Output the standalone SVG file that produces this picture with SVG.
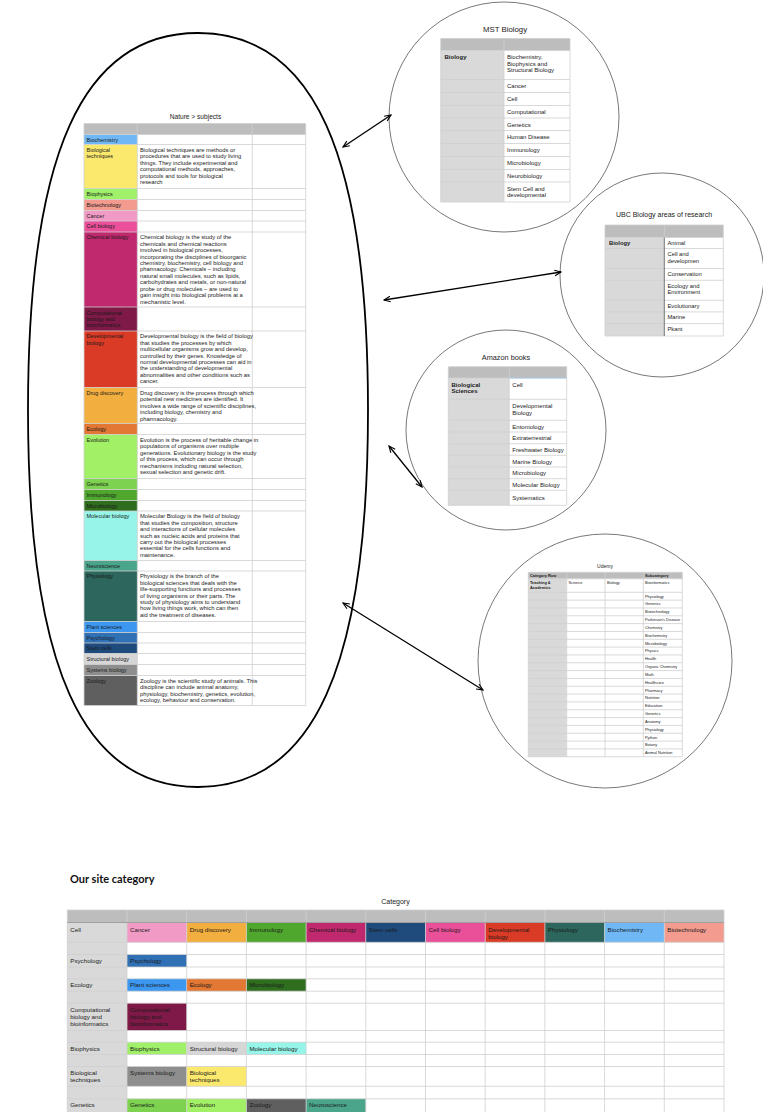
<svg xmlns="http://www.w3.org/2000/svg" width="763" height="1112" viewBox="0 0 763 1112">
<defs>
<style>
text{font-family:"Liberation Sans",Arial,Helvetica,sans-serif;fill:#1a1a1a}
.nl{font-size:5.5px}
.nd{font-size:5.8px}
.ti{font-size:7.5px;fill:#222}
.c6{font-size:6px}
.bt{font-size:6.2px}
.u{font-size:3.9px}
.b{font-weight:bold}
.grid{fill:none;stroke:#cfcfcf;stroke-width:0.8}
.hd{fill:#bdbdbd}
.gc{fill:#d9d9d9}
.wc{fill:#ffffff}
.circ{fill:none;stroke:#555;stroke-width:0.8}
.ell{fill:none;stroke:#000;stroke-width:1.8}
.arr{fill:none;stroke:#000;stroke-width:1.3;marker-start:url(#ah);marker-end:url(#ah)}
</style>
<marker id="ah" viewBox="0 0 10 10" refX="9" refY="5" markerWidth="8" markerHeight="8" markerUnits="userSpaceOnUse" orient="auto-start-reverse"><path d="M1,1.5 L9,5 L1,8.5" fill="none" stroke="#000" stroke-width="1.4"/></marker>
</defs>
<rect width="763" height="1112" fill="#fff"/>

<g id="nature">
<path class="ell" d="M368,410 C368,666.4 313.6,787 198,787 C82.4,787 28,666.4 28,410 C28,153.6 82.4,33 198,33 C313.6,33 368,153.6 368,410 Z"/>
<text class="ti" x="195.5" y="118.5" text-anchor="middle" style="font-size:6.6px">Nature &gt; subjects</text>
<rect class="wc" x="84" y="123.5" width="221.7" height="582"/>
<rect class="hd" x="84" y="123.5" width="221.7" height="11"/>
<rect x="84" y="134.5" width="53.3" height="10" fill="#6fb8f5"/>
<rect x="84" y="144.5" width="53.3" height="44" fill="#fbe96e"/>
<rect x="84" y="188.5" width="53.3" height="11" fill="#a1f06a"/>
<rect x="84" y="199.5" width="53.3" height="11" fill="#f29b8e"/>
<rect x="84" y="210.5" width="53.3" height="10.5" fill="#f19ac6"/>
<rect x="84" y="221" width="53.3" height="11" fill="#ea4f9a"/>
<rect x="84" y="232" width="53.3" height="75" fill="#c0296e"/>
<rect x="84" y="307" width="53.3" height="24" fill="#7f1947"/>
<rect x="84" y="331" width="53.3" height="56.5" fill="#da3b26"/>
<rect x="84" y="387.5" width="53.3" height="36" fill="#f2ae3f"/>
<rect x="84" y="423.5" width="53.3" height="11" fill="#e27833"/>
<rect x="84" y="434.5" width="53.3" height="44" fill="#a2f065"/>
<rect x="84" y="478.5" width="53.3" height="11" fill="#7dd24f"/>
<rect x="84" y="489.5" width="53.3" height="11" fill="#4fa72e"/>
<rect x="84" y="500.5" width="53.3" height="10.5" fill="#2e6e1e"/>
<rect x="84" y="511" width="53.3" height="49.5" fill="#96f5e8"/>
<rect x="84" y="560.5" width="53.3" height="10.5" fill="#4aa58b"/>
<rect x="84" y="571" width="53.3" height="50.5" fill="#2c665c"/>
<rect x="84" y="621.5" width="53.3" height="11" fill="#3c97f1"/>
<rect x="84" y="632.5" width="53.3" height="10.5" fill="#3070b5"/>
<rect x="84" y="643" width="53.3" height="10.5" fill="#1e4a7c"/>
<rect x="84" y="653.5" width="53.3" height="11" fill="#d6d6d6"/>
<rect x="84" y="664.5" width="53.3" height="11" fill="#8e8e8e"/>
<rect x="84" y="675.5" width="53.3" height="30" fill="#5f5f5f"/>
<path class="grid" d="M84 123.5H305.7M84 134.5H305.7M84 144.5H305.7M84 188.5H305.7M84 199.5H305.7M84 210.5H305.7M84 221H305.7M84 232H305.7M84 307H305.7M84 331H305.7M84 387.5H305.7M84 423.5H305.7M84 434.5H305.7M84 478.5H305.7M84 489.5H305.7M84 500.5H305.7M84 511H305.7M84 560.5H305.7M84 571H305.7M84 621.5H305.7M84 632.5H305.7M84 643H305.7M84 653.5H305.7M84 664.5H305.7M84 675.5H305.7M84 705.5H305.7M84 123.5V705.5M137.3 123.5V705.5M252.3 123.5V705.5M305.7 123.5V705.5"/>
<g class="nl">
<text x="86.5" y="141.7">Biochemistry</text>
<text x="86.5" y="151.5">Biological<tspan x="86.5" dy="6.5">techniques</tspan></text>
<text x="86.5" y="195.7">Biophysics</text>
<text x="86.5" y="206.7">Biotechnology</text>
<text x="86.5" y="217.7">Cancer</text>
<text x="86.5" y="228.2">Cell biology</text>
<text x="86.5" y="239.2">Chemical biology</text>
<text x="86.5" y="314.5">Computational<tspan x="86.5" dy="6.3">biology and</tspan><tspan x="86.5" dy="6.3">bioinformatics</tspan></text>
<text x="86.5" y="338.2">Developmental<tspan x="86.5" dy="6.5">biology</tspan></text>
<text x="86.5" y="394.7">Drug discovery</text>
<text x="86.5" y="430.7">Ecology</text>
<text x="86.5" y="441.7">Evolution</text>
<text x="86.5" y="485.7">Genetics</text>
<text x="86.5" y="496.7">Immunology</text>
<text x="86.5" y="507.7">Microbiology</text>
<text x="86.5" y="518.2">Molecular biology</text>
<text x="86.5" y="567.7">Neuroscience</text>
<text x="86.5" y="578.2">Physiology</text>
<text x="86.5" y="628.7">Plant sciences</text>
<text x="86.5" y="639.7">Psychology</text>
<text x="86.5" y="650.2">Stem cells</text>
<text x="86.5" y="660.7">Structural biology</text>
<text x="86.5" y="671.7">Systems biology</text>
<text x="86.5" y="682.7">Zoology</text>
</g>
<g class="nd">
<text x="140" y="151.7">Biological techniques are methods or<tspan x="140" dy="6.45">procedures that are used to study living</tspan><tspan x="140" dy="6.45">things. They include experimental and</tspan><tspan x="140" dy="6.45">computational methods, approaches,</tspan><tspan x="140" dy="6.45">protocols and tools for biological</tspan><tspan x="140" dy="6.45">research</tspan></text>
<text x="140" y="239.2">Chemical biology is the study of the<tspan x="140" dy="6.45">chemicals and chemical reactions</tspan><tspan x="140" dy="6.45">involved in biological processes,</tspan><tspan x="140" dy="6.45">incorporating the disciplines of bioorganic</tspan><tspan x="140" dy="6.45">chemistry, biochemistry, cell biology and</tspan><tspan x="140" dy="6.45">pharmacology. Chemicals – including</tspan><tspan x="140" dy="6.45">natural small molecules, such as lipids,</tspan><tspan x="140" dy="6.45">carbohydrates and metals, or non-natural</tspan><tspan x="140" dy="6.45">probe or drug molecules – are used to</tspan><tspan x="140" dy="6.45">gain insight into biological problems at a</tspan><tspan x="140" dy="6.45">mechanistic level.</tspan></text>
<text x="140" y="338.2">Developmental biology is the field of biology<tspan x="140" dy="6.45">that studies the processes by which</tspan><tspan x="140" dy="6.45">multicellular organisms grow and develop,</tspan><tspan x="140" dy="6.45">controlled by their genes. Knowledge of</tspan><tspan x="140" dy="6.45">normal developmental processes can aid in</tspan><tspan x="140" dy="6.45">the understanding of developmental</tspan><tspan x="140" dy="6.45">abnormalities and other conditions such as</tspan><tspan x="140" dy="6.45">cancer.</tspan></text>
<text x="140" y="394.7">Drug discovery is the process through which<tspan x="140" dy="6.45">potential new medicines are identified. It</tspan><tspan x="140" dy="6.45">involves a wide range of scientific disciplines,</tspan><tspan x="140" dy="6.45">including biology, chemistry and</tspan><tspan x="140" dy="6.45">pharmacology.</tspan></text>
<text x="140" y="441.7">Evolution is the process of heritable change in<tspan x="140" dy="6.45">populations of organisms over multiple</tspan><tspan x="140" dy="6.45">generations. Evolutionary biology is the study</tspan><tspan x="140" dy="6.45">of this process, which can occur through</tspan><tspan x="140" dy="6.45">mechanisms including natural selection,</tspan><tspan x="140" dy="6.45">sexual selection and genetic drift.</tspan></text>
<text x="140" y="518.2">Molecular Biology is the field of biology<tspan x="140" dy="6.45">that studies the composition, structure</tspan><tspan x="140" dy="6.45">and interactions of cellular molecules</tspan><tspan x="140" dy="6.45">such as nucleic acids and proteins  that</tspan><tspan x="140" dy="6.45">carry out the biological processes</tspan><tspan x="140" dy="6.45">essential for the cells functions and</tspan><tspan x="140" dy="6.45">maintenance.</tspan></text>
<text x="140" y="578.2">Physiology is the branch of the<tspan x="140" dy="6.45">biological sciences that deals with the</tspan><tspan x="140" dy="6.45">life-supporting functions and processes</tspan><tspan x="140" dy="6.45">of living organisms or their parts. The</tspan><tspan x="140" dy="6.45">study of physiology aims to understand</tspan><tspan x="140" dy="6.45">how living things work, which can then</tspan><tspan x="140" dy="6.45">aid the treatment of diseases.</tspan></text>
<text x="140" y="682.7">Zoology is the scientific study of animals. This<tspan x="140" dy="6.45">discipline can include animal anatomy,</tspan><tspan x="140" dy="6.45">physiology, biochemistry, genetics, evolution,</tspan><tspan x="140" dy="6.45">ecology, behaviour and conservation.</tspan></text>
</g>
</g>

<g id="mst">
<circle class="circ" cx="504" cy="117" r="115"/>
<text class="ti" x="505" y="31.5" text-anchor="middle" style="font-size:7.8px">MST Biology</text>
<rect class="hd" x="440.7" y="38.5" width="129.3" height="12"/>
<rect class="gc" x="440.7" y="50.5" width="63.3" height="151.5"/>
<rect class="wc" x="504" y="50.5" width="66" height="151.5"/>
<path class="grid" d="M440.7 38.5H570M440.7 50.5H570M440.7 79.5H570M440.7 92.5H570M440.7 105.5H570M440.7 118H570M440.7 130.5H570M440.7 143.5H570M440.7 156.5H570M440.7 169.5H570M440.7 182H570M440.7 202H570M440.7 38.5V202M504 38.5V202M570 38.5V202"/>
<g class="c6">
<text class="b" x="444.5" y="59">Biology</text>
<text x="507" y="59">Biochemistry,<tspan x="507" dy="6.7">Biophysics and</tspan><tspan x="507" dy="6.7">Structural Biology</tspan></text>
<text x="507" y="88">Cancer</text>
<text x="507" y="101">Cell</text>
<text x="507" y="114">Computational</text>
<text x="507" y="126.5">Genetics</text>
<text x="507" y="139">Human Disease</text>
<text x="507" y="152">Immunology</text>
<text x="507" y="165">Microbiology</text>
<text x="507" y="178">Neurobiology</text>
<text x="507" y="190.5">Stem Cell and<tspan x="507" dy="6.7">developmental</tspan></text>
</g>
</g>

<g id="ubc">
<circle class="circ" cx="662" cy="275" r="102"/>
<text class="ti" x="664" y="217.3" text-anchor="middle" style="font-size:7px">UBC Biology areas of research</text>
<rect class="hd" x="605" y="225" width="118.3" height="12.5"/>
<rect class="gc" x="605" y="237.5" width="59.3" height="98.5"/>
<rect class="wc" x="664.3" y="237.5" width="59" height="98.5"/>
<path class="grid" d="M605 225H723.3M605 237.5H723.3M605 248.5H723.3M605 268.5H723.3M605 280.3H723.3M605 300.3H723.3M605 311.9H723.3M605 323.6H723.3M605 336H723.3M605 225V336M664.3 225V237.5M723.3 225V336"/>
<path d="M664.3 237.5V336" stroke="#666" stroke-width="0.9"/>
<g class="c6" style="font-size:5.8px">
<text class="b" x="609" y="245">Biology</text>
<text x="667.5" y="245">Animal</text>
<text x="667.5" y="256">Cell and<tspan x="667.5" dy="6.6">developmen</tspan></text>
<text x="667.5" y="276">Conservation</text>
<text x="667.5" y="287.8">Ecology and<tspan x="667.5" dy="6.6">Environment</tspan></text>
<text x="667.5" y="307.8">Evolutionary</text>
<text x="667.5" y="319.4">Marine</text>
<text x="667.5" y="331.1">Pkant</text>
</g>
</g>

<g id="amazon">
<circle class="circ" cx="506" cy="430" r="100"/>
<text class="ti" x="506" y="360" text-anchor="middle" style="font-size:7.3px">Amazon books</text>
<rect class="hd" x="448.3" y="366.7" width="118.4" height="11.3"/>
<rect class="gc" x="448.3" y="378" width="61" height="127.3"/>
<rect class="wc" x="509.3" y="378" width="57.4" height="127.3"/>
<path class="grid" d="M448.3 366.7H566.7M448.3 378H566.7M448.3 399.3H566.7M448.3 420.3H566.7M448.3 432H566.7M448.3 443.7H566.7M448.3 455.3H566.7M448.3 467H566.7M448.3 478.7H566.7M448.3 490.3H566.7M448.3 505.3H566.7M448.3 366.7V505.3M509.3 366.7V505.3M566.7 366.7V505.3"/>
<path d="M509.3 378H566.7" stroke="#9fc5e8" stroke-width="0.9"/>
<g class="c6">
<text class="b" x="451.5" y="386.5">Biological<tspan x="451.5" dy="6.7">Sciences</tspan></text>
<text x="512.3" y="386.5">Cell</text>
<text x="512.3" y="407.8">Developmental<tspan x="512.3" dy="6.7">Biology</tspan></text>
<text x="512.3" y="428.5">Entomology</text>
<text x="512.3" y="440.2">Extraterrestrial</text>
<text x="512.3" y="451.9">Freshwater Biology</text>
<text x="512.3" y="463.5">Marine Biology</text>
<text x="512.3" y="475.2">Microbiology</text>
<text x="512.3" y="486.9">Molecular Biology</text>
<text x="512.3" y="500">Systematics</text>
</g>
</g>

<g id="udemy">
<circle class="circ" cx="605" cy="661" r="127"/>
<text x="605" y="567.5" text-anchor="middle" style="font-size:5px">Udemy</text>
<rect class="hd" x="528.3" y="572.3" width="154" height="6.5"/>
<rect class="gc" x="528.3" y="578.8" width="38.4" height="177.9"/>
<rect class="wc" x="566.7" y="578.8" width="115.6" height="177.9"/>
<path class="grid" stroke-width="0.6" d="M528.3 572.3H682.3M528.3 578.8H682.3M528.3 592.3H682.3M528.3 600.13H682.3M528.3 607.96H682.3M528.3 615.79H682.3M528.3 623.62H682.3M528.3 631.45H682.3M528.3 639.28H682.3M528.3 647.11H682.3M528.3 654.94H682.3M528.3 662.77H682.3M528.3 670.6H682.3M528.3 678.43H682.3M528.3 686.26H682.3M528.3 694.09H682.3M528.3 701.92H682.3M528.3 709.75H682.3M528.3 717.58H682.3M528.3 725.41H682.3M528.3 733.24H682.3M528.3 741.07H682.3M528.3 748.9H682.3M528.3 756.73H682.3M528.3 572.3V756.73M566.7 572.3V756.73M605 572.3V756.73M643.3 572.3V756.73M682.3 572.3V756.73"/>
<g class="u">
<text class="b" x="530" y="577.2">Category Row</text>
<text class="b" x="645" y="577.2">Subcategory</text>
<text class="b" x="530" y="584.3">Teaching &amp;<tspan x="530" dy="5">Academics</tspan></text>
<text x="568.5" y="584.3">Science</text>
<text x="607" y="584.3">Biology</text>
<text x="645" y="584.3">Bioinformatics</text>
<text x="645" y="597.6">Physiology</text>
<text x="645" y="605.43">Generics</text>
<text x="645" y="613.26">Biotechnology</text>
<text x="645" y="621.09">Parkinson's Disease</text>
<text x="645" y="628.92">Chemistry</text>
<text x="645" y="636.75">Biochemistry</text>
<text x="645" y="644.58">Microbiology</text>
<text x="645" y="652.41">Physics</text>
<text x="645" y="660.24">Health</text>
<text x="645" y="668.07">Organic Chemistry</text>
<text x="645" y="675.9">Math</text>
<text x="645" y="683.73">Healthcare</text>
<text x="645" y="691.56">Pharmacy</text>
<text x="645" y="699.39">Nutrition</text>
<text x="645" y="707.22">Education</text>
<text x="645" y="715.05">Genetics</text>
<text x="645" y="722.88">Anatomy</text>
<text x="645" y="730.71">Physiology</text>
<text x="645" y="738.54">Python</text>
<text x="645" y="746.37">Botany</text>
<text x="645" y="754.2">Animal Nutrition</text>
</g>
</g>

<g id="connectors">
<line class="arr" x1="343" y1="147" x2="391" y2="115"/>
<line class="arr" x1="384" y1="300" x2="561" y2="272"/>
<line class="arr" x1="389" y1="446" x2="422" y2="487"/>
<line class="arr" x1="343" y1="603" x2="483" y2="690"/>
</g>

<g id="site-category">
<text x="70" y="883" style="font-family:Lato,'Liberation Sans',sans-serif;font-weight:bold;font-size:11px;fill:#111">Our site category</text>
<text x="395.5" y="904.3" text-anchor="middle" style="font-size:7px">Category</text>
<rect class="hd" x="67.3" y="910" width="656.7" height="12.5"/>
<rect class="wc" x="127" y="922.5" width="597" height="189.5"/>
<rect class="gc" x="67.3" y="922.5" width="59.7" height="189.5"/>
<rect x="127" y="922.5" width="59.7" height="19.8" fill="#f19ac6"/>
<rect x="186.7" y="922.5" width="59.7" height="19.8" fill="#f2ae3f"/>
<rect x="246.4" y="922.5" width="59.7" height="19.8" fill="#4fa72e"/>
<rect x="306.1" y="922.5" width="59.7" height="19.8" fill="#c0296e"/>
<rect x="365.8" y="922.5" width="59.7" height="19.8" fill="#1e4a7c"/>
<rect x="425.5" y="922.5" width="59.7" height="19.8" fill="#ea4f9a"/>
<rect x="485.2" y="922.5" width="59.7" height="19.8" fill="#da3b26"/>
<rect x="544.9" y="922.5" width="59.7" height="19.8" fill="#2c665c"/>
<rect x="604.6" y="922.5" width="59.7" height="19.8" fill="#6fb8f5"/>
<rect x="664.3" y="922.5" width="59.7" height="19.8" fill="#f29b8e"/>
<rect x="127" y="954.5" width="59.7" height="12.5" fill="#3070b5"/>
<rect x="127" y="978.8" width="59.7" height="12.4" fill="#3c97f1"/>
<rect x="186.7" y="978.8" width="59.7" height="12.4" fill="#e27833"/>
<rect x="246.4" y="978.8" width="59.7" height="12.4" fill="#2e6e1e"/>
<rect x="127" y="1003.2" width="59.7" height="27.3" fill="#7f1947"/>
<rect x="127" y="1042.2" width="59.7" height="12.3" fill="#a1f06a"/>
<rect x="186.7" y="1042.2" width="59.7" height="12.3" fill="#d6d6d6"/>
<rect x="246.4" y="1042.2" width="59.7" height="12.3" fill="#96f5e8"/>
<rect x="127" y="1066.5" width="59.7" height="19.8" fill="#8e8e8e"/>
<rect x="186.7" y="1066.5" width="59.7" height="19.8" fill="#fbe96e"/>
<rect x="127" y="1098.8" width="59.7" height="13.2" fill="#7dd24f"/>
<rect x="186.7" y="1098.8" width="59.7" height="13.2" fill="#a2f065"/>
<rect x="246.4" y="1098.8" width="59.7" height="13.2" fill="#5f5f5f"/>
<rect x="306.1" y="1098.8" width="59.7" height="13.2" fill="#4aa58b"/>
<path class="grid" stroke="#c6c6c6" d="M67.3 910H724M67.3 942.3H724M67.3 954.5H724M67.3 967H724M67.3 978.8H724M67.3 991.2H724M67.3 1003.2H724M67.3 1030.5H724M67.3 1042.2H724M67.3 1054.5H724M67.3 1066.5H724M67.3 1086.3H724M67.3 1098.8H724M67.3 910V1112M127 910V1112M186.7 910V1112M246.4 910V1112M306.1 910V1112M365.8 910V1112M425.5 910V1112M485.2 910V1112M544.9 910V1112M604.6 910V1112M664.3 910V1112M724 910V1112"/>
<path d="M67.3 922.5H724" stroke="#a0a0a0" stroke-width="1.2"/>
<g class="bt">
<text x="70.3" y="932">Cell</text>
<text x="130" y="932">Cancer</text>
<text x="189.7" y="932">Drug discovery</text>
<text x="249.4" y="932">Immunology</text>
<text x="309.1" y="932">Chemical biology</text>
<text x="368.8" y="932">Stem cells</text>
<text x="428.5" y="932">Cell biology</text>
<text x="488.2" y="932">Developmental<tspan x="488.2" dy="6.7">biology</tspan></text>
<text x="547.9" y="932">Physiology</text>
<text x="607.6" y="932">Biochemistry</text>
<text x="667.3" y="932">Biotechnology</text>
<text x="70.3" y="962.8">Psychology</text>
<text x="130" y="962.8">Psychology</text>
<text x="70.3" y="987.1">Ecology</text>
<text x="130" y="987.1">Plant sciences</text>
<text x="189.7" y="987.1">Ecology</text>
<text x="249.4" y="987.1">Microbiology</text>
<text x="70.3" y="1011.5">Computational<tspan x="70.3" dy="7.3">biology and</tspan><tspan x="70.3" dy="7.3">bioinformatics</tspan></text>
<text x="130" y="1011.5">Computational<tspan x="130" dy="7.3">biology and</tspan><tspan x="130" dy="7.3">bioinformatics</tspan></text>
<text x="70.3" y="1050.5">Biophysics</text>
<text x="130" y="1050.5">Biophysics</text>
<text x="189.7" y="1050.5">Structural biology</text>
<text x="249.4" y="1050.5">Molecular biology</text>
<text x="70.3" y="1074.8">Biological<tspan x="70.3" dy="7.2">techniques</tspan></text>
<text x="130" y="1074.8">Systems biology</text>
<text x="189.7" y="1074.8">Biological<tspan x="189.7" dy="7.2">techniques</tspan></text>
<text x="70.3" y="1107.1">Genetics</text>
<text x="130" y="1107.1">Genetics</text>
<text x="189.7" y="1107.1">Evolution</text>
<text x="249.4" y="1107.1">Zoology</text>
<text x="309.1" y="1107.1">Neuroscience</text>
</g>
</g>
</svg>
